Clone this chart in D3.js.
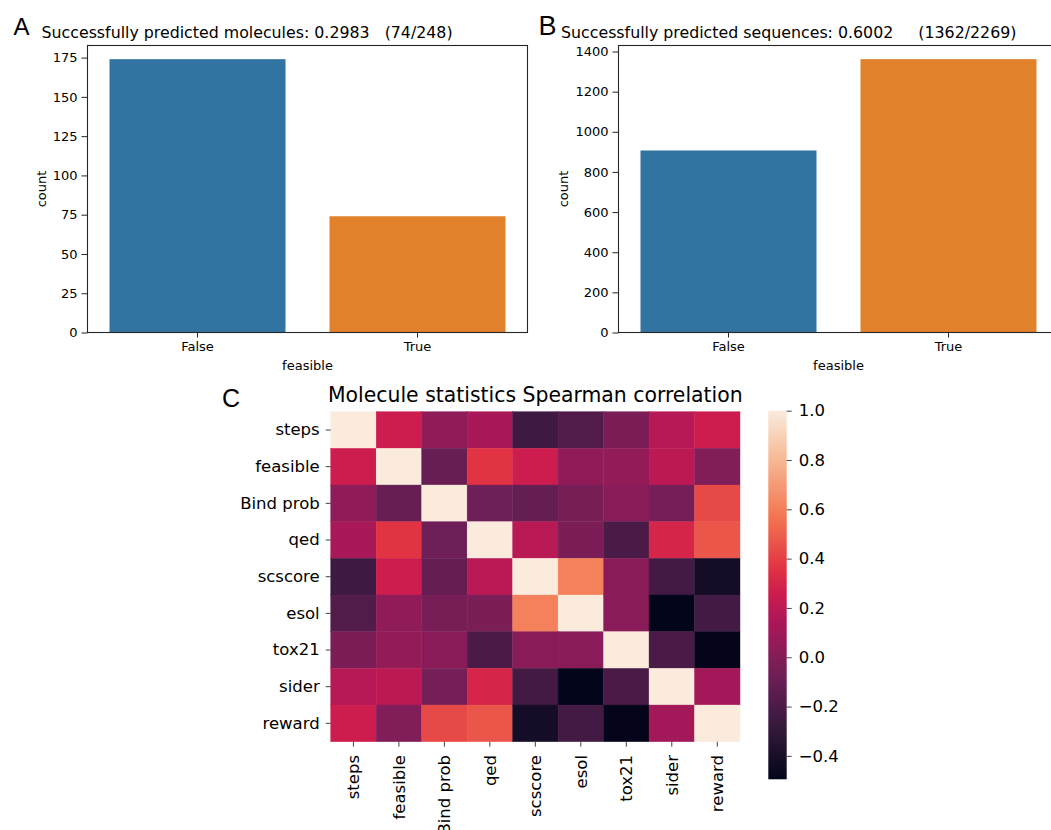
<!DOCTYPE html>
<html>
<head>
<meta charset="utf-8">
<script src="https://cdn.jsdelivr.net/npm/d3@7"></script>
<style>
  body { margin: 0; background: #fff; }
  svg { display: block; }
  text { font-family: "DejaVu Sans", sans-serif; fill: #000; }
  .letter { font-family: "Liberation Sans", Arial, sans-serif; }
</style>
</head>
<body>
<svg id="fig" width="1051" height="830"></svg>
<script>
// ---- data ----
const feasibleCats = ["False", "True"];
const moleculeCounts = [174, 74];
const sequenceCounts = [907, 1362];
const barColors = ["#3274a1", "#e1812c"];
const moleculeTicks = [0, 25, 50, 75, 100, 125, 150, 175];
const sequenceTicks = [0, 200, 400, 600, 800, 1000, 1200, 1400];

const statNames = ["steps", "feasible", "Bind prob", "qed", "scscore", "esol", "tox21", "sider", "reward"];
const spearman = [
  [ 1.00,  0.26,  0.04,  0.13, -0.25, -0.18, -0.03,  0.18,  0.26],
  [ 0.26,  1.00, -0.10,  0.36,  0.26,  0.04,  0.05,  0.20, -0.01],
  [ 0.04, -0.10,  1.00, -0.07, -0.11, -0.04,  0.02, -0.055, 0.43],
  [ 0.13,  0.36, -0.07,  1.00,  0.19, -0.03, -0.20,  0.30,  0.47],
  [-0.25,  0.26, -0.11,  0.19,  1.00,  0.61,  0.02, -0.23, -0.42],
  [-0.18,  0.04, -0.04, -0.03,  0.61,  1.00,  0.02, -0.495, -0.23],
  [-0.03,  0.05,  0.02, -0.20,  0.02,  0.02,  1.00, -0.20, -0.49],
  [ 0.18,  0.20, -0.055, 0.30, -0.23, -0.495, -0.20, 1.00,  0.11],
  [ 0.26, -0.01,  0.43,  0.47, -0.42, -0.23, -0.49,  0.11,  1.00]
];
const colorbarTicks = [-0.4, -0.2, 0.0, 0.2, 0.4, 0.6, 0.8, 1.0];
// "rocket" colormap anchor colours and their positions along the map
const rocketPos = [0, 1 / 7, 2 / 7, 3 / 7, 0.5, 4 / 7, 5 / 7, 6 / 7, 1];
const rocketStops = ["#03051a", "#35193e", "#701f57", "#ad1759", "#cb1b4f", "#e13342", "#f37651", "#f6b48f", "#faebdd"];

const svg = d3.select("#fig");
svg.append("rect").attr("width", 1051).attr("height", 830).attr("fill", "#fff");

// ---- count bar panels ----
function barPanel(o) {
  const g = svg.append("g");
  const x = d3.scaleBand().domain(feasibleCats).range([o.left, o.right])
    .paddingInner(0.2).paddingOuter(0.1);
  const y = d3.scaleLinear().domain([0, d3.max(o.values) * 1.05]).range([o.bottom, o.top]);

  g.selectAll("rect.bar").data(o.values).join("rect")
    .attr("class", "bar")
    .attr("x", (d, i) => x(feasibleCats[i]))
    .attr("width", x.bandwidth())
    .attr("y", d => y(d))
    .attr("height", d => y(0) - y(d))
    .attr("fill", (d, i) => barColors[i]);

  const ya = g.append("g").attr("transform", `translate(${o.left},0)`)
    .call(d3.axisLeft(y).tickValues(o.ticks).tickSize(6).tickPadding(4).tickFormat(d3.format("d")));
  const xa = g.append("g").attr("transform", `translate(0,${o.bottom})`)
    .call(d3.axisBottom(x).tickSize(5).tickPadding(4));
  [ya, xa].forEach(a => {
    a.select(".domain").remove();
    a.selectAll("line").attr("stroke", "#262626").attr("stroke-width", 1);
    a.selectAll("text").attr("font-size", 13).attr("font-family", "DejaVu Sans").attr("fill", "#111");
  });

  g.append("rect")
    .attr("x", o.left).attr("y", o.top)
    .attr("width", o.right - o.left).attr("height", o.bottom - o.top)
    .attr("fill", "none").attr("stroke", "#262626").attr("stroke-width", 1.1);

  g.append("text").attr("x", (o.left + o.right) / 2).attr("y", 369.5)
    .attr("text-anchor", "middle").attr("font-size", 13).text("feasible");
  g.append("text")
    .attr("transform", `translate(${o.ylabelX},${(o.top + o.bottom) / 2}) rotate(-90)`)
    .attr("text-anchor", "middle").attr("font-size", 13).text("count");

  g.append("text").attr("x", o.titleX).attr("y", 37.7)
    .attr("font-size", 15.8).style("white-space", "pre").text(o.title);
  g.append("text").attr("class", "letter").attr("x", o.letterX).attr("y", 34.5)
    .attr("font-size", o.letterSize).text(o.letter);
}

barPanel({
  left: 87.5, right: 527.5, top: 45.5, bottom: 332.5,
  values: moleculeCounts, ticks: moleculeTicks,
  title: "Successfully predicted molecules: 0.2983   (74/248)", titleX: 41.5,
  letter: "A", letterX: 13.5, letterSize: 24, ylabelX: 46
});
barPanel({
  left: 618.5, right: 1058.5, top: 45.5, bottom: 332.5,
  values: sequenceCounts, ticks: sequenceTicks,
  title: "Successfully predicted sequences: 0.6002     (1362/2269)", titleX: 561,
  letter: "B", letterX: 538.5, letterSize: 27, ylabelX: 568
});

// ---- Spearman correlation heatmap ----
const hm = svg.append("g");
const hx = d3.scaleBand().domain(statNames).range([330.7, 740]);
const hy = d3.scaleBand().domain(statNames).range([411.7, 741.7]);
const flat = spearman.flat();
const vmin = d3.min(flat), vmax = d3.max(flat);
const rocketScale = d3.scaleLinear().domain(rocketPos).range(rocketStops)
  .interpolate(d3.interpolateRgb).clamp(true);
const rocket = t => rocketScale(t);
const color = d3.scaleSequential(rocket).domain([vmin, vmax]);

const cells = [];
spearman.forEach((row, i) => row.forEach((v, j) => cells.push({ r: statNames[i], c: statNames[j], v })));
hm.selectAll("rect.cell").data(cells).join("rect")
  .attr("class", "cell")
  .attr("x", d => hx(d.c)).attr("y", d => hy(d.r))
  .attr("width", hx.bandwidth()).attr("height", hy.bandwidth())
  .attr("fill", d => color(d.v))
  .attr("stroke", d => color(d.v)).attr("stroke-width", 0.4);

const hya = hm.append("g").attr("transform", "translate(330.7,0)")
  .call(d3.axisLeft(hy).tickSize(5).tickPadding(6));
const hxa = hm.append("g").attr("transform", "translate(0,741.7)")
  .call(d3.axisBottom(hx).tickSize(5).tickPadding(8));
[hya, hxa].forEach(a => {
  a.select(".domain").remove();
  a.selectAll("line").attr("stroke", "#444").attr("stroke-width", 1);
  a.selectAll("text").attr("font-size", 16.5).attr("font-family", "DejaVu Sans").attr("fill", "#111");
});
hxa.selectAll("text")
  .attr("transform", "rotate(-90)")
  .attr("text-anchor", "end")
  .attr("x", -13.3).attr("y", 0).attr("dy", "0.35em");

hm.append("text").attr("x", (330.7 + 740) / 2).attr("y", 401.7)
  .attr("text-anchor", "middle").attr("font-size", 20.4)
  .text("Molecule statistics Spearman correlation");
svg.append("text").attr("class", "letter").attr("x", 222).attr("y", 406.7)
  .attr("font-size", 25).text("C");

// colorbar
const cbX = 768.3, cbW = 18.4, cbTop = 410.7, cbBottom = 779.3;
const cy = d3.scaleLinear().domain([vmin, vmax]).range([cbBottom, cbTop]);
const grad = svg.append("defs").append("linearGradient")
  .attr("id", "rocketGrad").attr("x1", 0).attr("y1", 1).attr("x2", 0).attr("y2", 0);
d3.range(0, 1.0001, 0.02).forEach(t => {
  grad.append("stop").attr("offset", t).attr("stop-color", rocket(t));
});
svg.append("rect").attr("x", cbX).attr("y", cbTop).attr("width", cbW)
  .attr("height", cbBottom - cbTop).attr("fill", "url(#rocketGrad)");
const cba = svg.append("g").attr("transform", `translate(${cbX + cbW},0)`)
  .call(d3.axisRight(cy).tickValues(colorbarTicks).tickSize(5).tickPadding(7).tickFormat(d3.format(".1f")));
cba.select(".domain").remove();
cba.selectAll("line").attr("stroke", "#444").attr("stroke-width", 1);
cba.selectAll("text").attr("font-size", 16.5).attr("font-family", "DejaVu Sans").attr("fill", "#111");
</script>
</body>
</html>
